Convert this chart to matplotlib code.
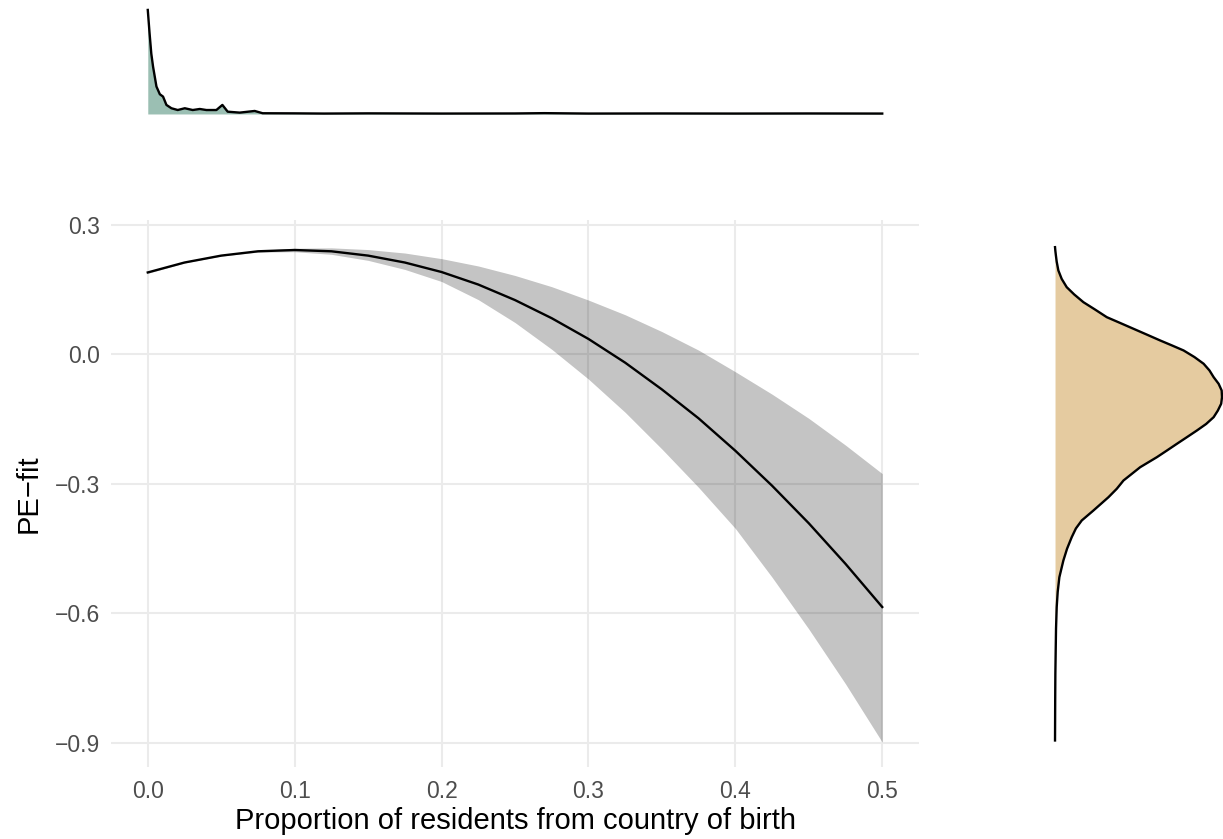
import numpy as np
import matplotlib
matplotlib.use("Agg")
import matplotlib.pyplot as plt

plt.rcParams['font.family'] = ['Liberation Sans', 'DejaVu Sans']

# fitted curve with confidence band
prop = [0.0, 0.025, 0.05, 0.075, 0.10, 0.125, 0.15, 0.175, 0.20, 0.225, 0.25,
        0.275, 0.30, 0.325, 0.35, 0.375, 0.40, 0.425, 0.45, 0.475, 0.50]
pe_fit = [0.190, 0.213, 0.229, 0.239, 0.242, 0.239, 0.229, 0.213, 0.191, 0.162, 0.126,
          0.084, 0.036, -0.019, -0.081, -0.148, -0.223, -0.304, -0.391, -0.485, -0.585]
pe_upper = [0.192, 0.214, 0.230, 0.241, 0.246, 0.247, 0.243, 0.235, 0.222, 0.205, 0.183,
            0.157, 0.126, 0.092, 0.053, 0.010, -0.040, -0.092, -0.148, -0.210, -0.276]
pe_lower = [0.188, 0.212, 0.228, 0.237, 0.238, 0.232, 0.218, 0.197, 0.169, 0.127, 0.074,
            0.012, -0.057, -0.134, -0.219, -0.308, -0.403, -0.516, -0.636, -0.763, -0.898]

# marginal density of the predictor (top)
dens_x = [0.0, 0.0012, 0.0024, 0.0036, 0.0059, 0.0082, 0.0104, 0.0127, 0.0161, 0.0204,
          0.0252, 0.0306, 0.0354, 0.0399, 0.0467, 0.0508, 0.0544, 0.0626, 0.0728, 0.0782,
          0.10, 0.12, 0.15, 0.20, 0.25, 0.27, 0.30, 0.35, 0.40, 0.45, 0.50]
dens_x_h = [1.0, 0.78, 0.58, 0.455, 0.264, 0.190, 0.167, 0.087, 0.055, 0.038,
            0.055, 0.038, 0.048, 0.038, 0.038, 0.087, 0.022, 0.013, 0.029, 0.007,
            0.006, 0.004, 0.006, 0.004, 0.005, 0.008, 0.004, 0.005, 0.004, 0.005, 0.004]

# marginal density of PE-fit (right)
dens_y = [0.2486, 0.2400, 0.2300, 0.2150, 0.1946, 0.1750, 0.1559, 0.1390, 0.1211, 0.1040,
          0.0864, 0.0730, 0.0595, 0.0460, 0.0324, 0.0210, 0.0093, -0.0060, -0.0215, -0.0370,
          -0.0526, -0.0680, -0.0834, -0.0990, -0.1142, -0.1300, -0.1452, -0.1610, -0.1760,
          -0.1915, -0.2069, -0.2225, -0.2379, -0.2611, -0.2919, -0.3110, -0.3306, -0.3460,
          -0.3614, -0.3845, -0.4030, -0.4232, -0.4500, -0.4772, -0.5159, -0.5500, -0.5854,
          -0.6350, -0.6857, -0.7400, -0.8015, -0.8941]
dens_y_h = [0.0, 0.002, 0.005, 0.010, 0.020, 0.040, 0.070, 0.115, 0.170, 0.240,
            0.310, 0.390, 0.470, 0.550, 0.630, 0.700, 0.770, 0.835, 0.890, 0.925,
            0.950, 0.980, 0.998, 1.0, 0.995, 0.975, 0.950, 0.905, 0.850,
            0.790, 0.730, 0.670, 0.610, 0.510, 0.410, 0.370, 0.320, 0.275,
            0.230, 0.160, 0.125, 0.100, 0.072, 0.050, 0.026, 0.016, 0.010,
            0.006, 0.004, 0.002, 0.001, 0.0]

grid_col = '#EBEBEB'
text_col = '#4D4D4D'

fig = plt.figure(figsize=(12.23, 8.39), dpi=100)
ax = fig.add_axes([0.0908, 0.0858, 0.6606, 0.6525])
ax_top = fig.add_axes([0.0908, 0.8582, 0.6606, 0.1359], sharex=ax)
ax_right = fig.add_axes([0.8561, 0.0858, 0.1439, 0.6525], sharey=ax)

ax.fill_between(prop, pe_lower, pe_upper, color='black', alpha=0.23, linewidth=0)
ax.plot(prop, pe_fit, color='black', lw=1.7)

ax.set_xlim(-0.025, 0.525)
ax.set_ylim(-0.9556, 0.3125)
ax.set_xticks([0.0, 0.1, 0.2, 0.3, 0.4, 0.5])
ax.set_yticks([-0.9, -0.6, -0.3, 0.0, 0.3])
ax.set_xticklabels(['0.0', '0.1', '0.2', '0.3', '0.4', '0.5'])
ax.set_yticklabels(['\u22120.9', '\u22120.6', '\u22120.3', '0.0', '0.3'])
ax.grid(True, color=grid_col, lw=1.5)
ax.set_axisbelow(True)
for s in ax.spines.values():
    s.set_visible(False)
ax.tick_params(length=0, labelsize=16.5, labelcolor=text_col)
ax.tick_params(axis='y', pad=8)
ax.tick_params(axis='x', pad=9)
ax.set_xlabel('Proportion of residents from country of birth', fontsize=21, labelpad=3)
ax.set_ylabel('PE\u2212fit', fontsize=21, labelpad=9)

# top marginal
ax_top.fill_between(dens_x, 0, dens_x_h, color='#9BBFB3', linewidth=0)
ax_top.plot(dens_x, dens_x_h, color='black', lw=1.7)
ax_top.set_ylim(-0.048, 1.048)
ax_top.axis('off')

# right marginal
ax_right.fill_betweenx(dens_y, 0, dens_y_h, color='#E5CBA0', linewidth=0)
ax_right.plot(dens_y_h, dens_y, color='black', lw=1.7)
ax_right.set_xlim(-0.048, 1.006)
ax_right.axis('off')

fig.savefig('out.png', dpi=100)
